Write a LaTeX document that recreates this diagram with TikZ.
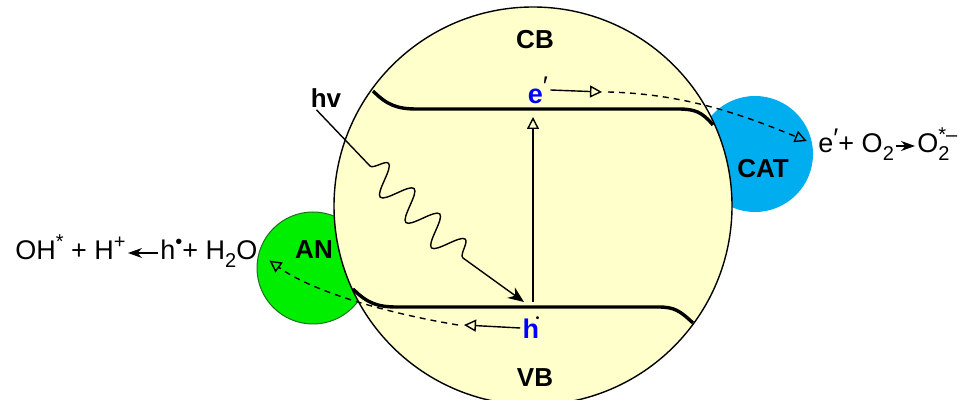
\documentclass[tikz,border=0pt]{standalone}
\usepackage{fontspec}
\setmainfont{Liberation Sans}
\usetikzlibrary{arrows.meta,decorations.pathmorphing}
\definecolor{PcYellow}{HTML}{FFFFCC}
\definecolor{AnGreen}{HTML}{00EE00}
\definecolor{AnEdge}{HTML}{1F6F1F}
\definecolor{CatBlue}{HTML}{00AEEF}
\definecolor{ChargeBlue}{HTML}{0000FF}
\newcommand\upx[1]{\raisebox{0.42em}{\fontsize{10}{12}\selectfont #1}}
\newcommand\downx[1]{\raisebox{-0.28em}{\fontsize{10}{12}\selectfont #1}}

\begin{document}
\begin{tikzpicture}[x=0.5pt,y=-0.5pt,
  every node/.style={font=\fontsize{13.5}{16}\selectfont, inner sep=1pt},
  lbl/.style={font=\bfseries\fontsize{13}{15}\selectfont},
  charge/.style={font=\bfseries\fontsize{13.5}{16}\selectfont, text=ChargeBlue},
  particle/.style={circle, inner sep=0pt},
  band/.style={line width=1.7pt},
  opentip/.style={-{Triangle[open,length=6pt,width=6pt]}, line width=0.7pt},
  transfer/.style={dash pattern=on 3pt off 2.5pt, -{Triangle[open,length=6pt,width=6pt]}, line width=0.7pt},
  eqarrow/.style={-{Stealth[length=7pt,width=5pt]}, line width=0.7pt}]
\useasboundingbox (0,0) rectangle (968,400);
% particles, big one on top
\node[particle, draw=AnEdge, fill=AnGreen, line width=0.5pt, minimum size=56pt] (an) at (313,268) {};
\node[particle, fill=CatBlue, minimum size=58pt] (cat) at (755,154) {};
\node[particle, draw, fill=PcYellow, line width=0.7pt, minimum size=199pt] (pc) at (533,206) {};
% bands
\draw[band] (373,91) .. controls (387,105) and (397,109) .. (417,109) -- (678,109)
  .. controls (695,109) and (702,112) .. (713,125);
\draw[band] (353,289) .. controls (367,303) and (377,307) .. (397,307) -- (658,307)
  .. controls (675,307) and (680,311) .. (693,323);
% labels
\node[lbl] (cb) at (535,40) {CB};
\node[lbl] (vb) at (535,378) {VB};
\node[lbl] (anlbl) at (314,250) {AN};
\node[lbl] (catlbl) at (763,169) {CAT};
\node[lbl] (hv) at (326,98) {hv};
\node[charge] (e) at (538,90) {e\raisebox{0.3em}{\color{black}\mdseries′}};
\node[charge] (h) at (531,328) {h\kern-0.12em\raisebox{0.62em}{\color{black}\tiny•}};
% reactions
\node[anchor=base west] (ohh) at (13,260) {OH\upx{*} + H\upx{+}};
\node[anchor=base west] (hho) at (158,260) {h\upx{•}+ H\downx{2}O};
\node[anchor=base west] (eo2) at (816,153) {e\raisebox{0.2em}{′}+ O\downx{2}};
\node[anchor=base west] (o2m) at (915,153) {O\rlap{\upx{*–}}\downx{2}};
\draw[eqarrow] ([yshift=3.5pt]hho.base west) -- ([yshift=3.5pt]ohh.base east);
\draw[eqarrow] ([yshift=3.5pt]eo2.base east) -- ([yshift=3.5pt]o2m.base west);
% excitation
\coordinate (w1) at (370,166);
\coordinate (w2) at (463,258);
\coordinate (vbh) at (524,302);
\coordinate (vbx) at (533,302);
\coordinate (cbx) at (533,117);
\coordinate (eend) at (602,92);
\coordinate (hend) at (464,325);
\draw[line width=0.7pt, -{Stealth[length=8pt,width=6.5pt]}] ([xshift=4pt]hv.south west) -- (w1)
  decorate[decoration={snake, amplitude=7.5pt, segment length=18pt}] {-- (w2)} -- (vbh);
\draw[opentip] (vbx) -- (cbx);
% charge transfer
\draw[opentip] (e.east) -- (eend);
\draw[transfer, shorten >=5pt] ([xshift=3pt]eend) .. controls (690,94) and (750,118) .. (eo2.west);
\draw[opentip] (h.west) -- (hend);
\draw[transfer, shorten >=6pt] ([xshift=-3pt]hend) .. controls (380,312) and (310,290) .. (hho.east);
\end{tikzpicture}
\end{document}
